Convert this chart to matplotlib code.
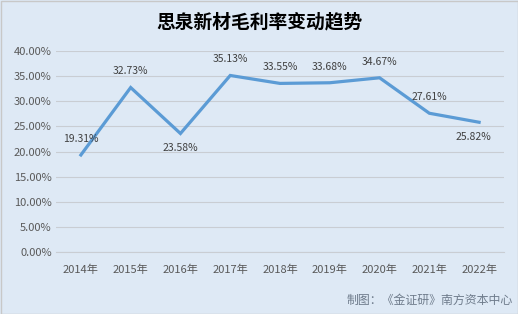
import matplotlib
matplotlib.use("Agg")
import matplotlib.pyplot as plt
from matplotlib.ticker import FuncFormatter

plt.rcParams['font.family'] = ['Noto Sans CJK SC', 'DejaVu Sans']

years = ["2014年", "2015年", "2016年", "2017年", "2018年", "2019年", "2020年", "2021年", "2022年"]
margin = [19.31, 32.73, 23.58, 35.13, 33.55, 33.68, 34.67, 27.61, 25.82]
label_pos = ["above", "above", "below", "above", "above", "above", "above", "above", "below"]

W, H = 518, 314
fig = plt.figure(figsize=(W / 100, H / 100), dpi=100)
bg = "#DEE9F5"
fig.patch.set_facecolor(bg)
ax = fig.add_axes([56 / W, 1 - 252 / H, (504 - 56) / W, (252 - 51) / H])
ax.set_facecolor(bg)

x = list(range(len(years)))
ax.plot(x, margin, color="#5B9BD5", lw=2.3, solid_joinstyle="miter")

for xi, v, p in zip(x, margin, label_pos):
    if p == "above":
        ax.annotate(f"{v:.2f}%", (xi, v), xytext=(0, 8), textcoords="offset points",
                    ha="center", va="bottom", fontsize=7.5, color="#404040")
    else:
        ax.annotate(f"{v:.2f}%", (xi, v), xytext=(-4 if xi == 8 else 0, -7), textcoords="offset points",
                    ha="center", va="top", fontsize=7.5, color="#404040")

ax.set_xlim(-0.5, len(years) - 0.5)
ax.set_ylim(0, 40)
ax.set_yticks(range(0, 41, 5))
ax.yaxis.set_major_formatter(FuncFormatter(lambda v, _: f"{v:.2f}%"))
ax.set_xticks(x)
ax.set_xticklabels(years)
ax.tick_params(axis="both", length=0, labelsize=8, labelcolor="#595959")
ax.tick_params(axis="x", pad=9)
ax.tick_params(axis="y", pad=3)
ax.grid(axis="y", color="#C9CDD3", lw=0.8)
ax.set_axisbelow(True)
for s in ["top", "right", "left"]:
    ax.spines[s].set_visible(False)
ax.spines["bottom"].set_color("#C9CDD3")
ax.spines["bottom"].set_linewidth(0.8)
for lbl in ax.get_yticklabels():
    lbl.set_ha("right")

fig.text(0.5, 1 - 22 / H, "思泉新材毛利率变动趋势", ha="center", va="center",
         fontsize=13.5, fontweight="bold", color="#000000")
fig.text(513 / W, 1 - 300 / H, "制图：《金证研》南方资本中心", ha="right", va="center",
         fontsize=8.6, color="#6E7B8B")

border = plt.Rectangle((0.5 / W, 0.5 / H), 1 - 1 / W, 1 - 1 / H, transform=fig.transFigure,
                       fill=False, edgecolor="#C8C8C8", lw=1)
fig.patches.append(border)

fig.savefig("out.png", dpi=100, facecolor=bg)
